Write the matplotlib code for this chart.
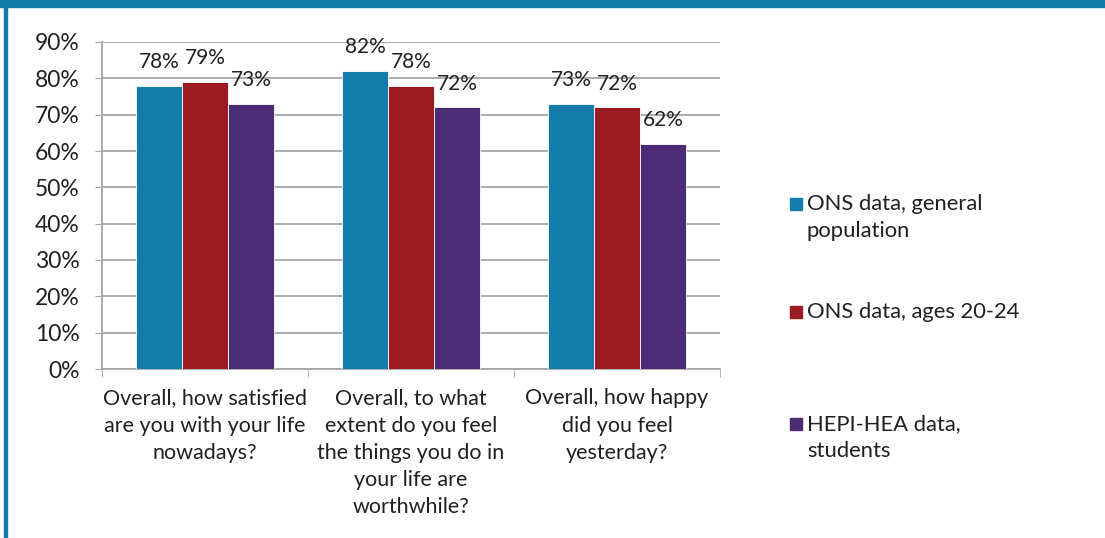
import matplotlib.pyplot as plt
import numpy as np
from matplotlib.patches import Rectangle

questions = [
    "Overall, how satisfied\nare you with your life\nnowadays?",
    "Overall, to what\nextent do you feel\nthe things you do in\nyour life are\nworthwhile?",
    "Overall, how happy\ndid you feel\nyesterday?",
]
series_names = [
    "ONS data, general\npopulation",
    "ONS data, ages 20-24",
    "HEPI-HEA data,\nstudents",
]
ons_general = [78, 82, 73]
ons_20_24 = [79, 78, 72]
hepi_students = [73, 72, 62]
colors = ["#137cab", "#9a1b20", "#4b2c74"]
text_color = "#231f20"

plt.rcParams['font.family'] = ['Lato', 'DejaVu Sans']

W, H = 1105, 538
fig = plt.figure(figsize=(W / 100, H / 100), dpi=100)
ax = fig.add_axes([102 / W, 1 - 369 / H, (720 - 102) / W, (369 - 42) / H])

x = np.arange(len(questions))
width = 0.223
for i, vals in enumerate([ons_general, ons_20_24, hepi_students]):
    pos = x + (i - 1) * width
    ax.bar(pos, vals, width, color=colors[i], edgecolor="white", linewidth=0.6, zorder=3)
    for p, v in zip(pos, vals):
        ax.annotate(f"{v}%", (p, v), xytext=(0, 10), textcoords="offset points",
                    ha="center", va="bottom", fontsize=15, color=text_color)

ax.set_xlim(-0.5, 2.5)
ax.set_ylim(0, 90)
ax.set_yticks(range(0, 91, 10))
ax.set_yticklabels([f"{t}%" for t in range(0, 91, 10)], fontsize=16.5, color=text_color)
ax.yaxis.grid(True, color="#a6a6a6", linewidth=1.3, zorder=0)
ax.tick_params(axis="y", length=5, color="#a6a6a6", pad=11)

# category boundaries as minor ticks, labels on major ticks
ax.set_xticks(x)
ax.set_xticklabels(questions, fontsize=15.5, color=text_color, linespacing=1.45, va="top")
ax.set_xticks(np.arange(-0.5, 3, 1), minor=True)
ax.tick_params(axis="x", which="major", length=0, pad=14)
ax.tick_params(axis="x", which="minor", length=6, color="#a6a6a6")

for s in ["top", "right"]:
    ax.spines[s].set_visible(False)
for s in ["left", "bottom"]:
    ax.spines[s].set_color("#a6a6a6")
    ax.spines[s].set_linewidth(1.3)

# legend drawn at fixed figure positions, one text per line
legend_y = [204, 312, 424]
for name, c, y in zip(series_names, colors, legend_y):
    fig.add_artist(Rectangle((790 / W, 1 - (y + 6) / H), 12 / W, 12 / H,
                             transform=fig.transFigure, color=c))
    for k, line in enumerate(name.split("\n")):
        fig.text(807 / W, 1 - (y + 27 * k) / H, line, fontsize=15.8,
                 color=text_color, va="center", ha="left")

# blue frame: band across the top and a strip on the left
fig.add_artist(Rectangle((0, 1 - 7 / H), 1, 7 / H, transform=fig.transFigure, color="#117bab"))
fig.add_artist(Rectangle((4 / W, 0), 3 / W, 1, transform=fig.transFigure, color="#117bab"))

fig.savefig("out.png", dpi=100)
